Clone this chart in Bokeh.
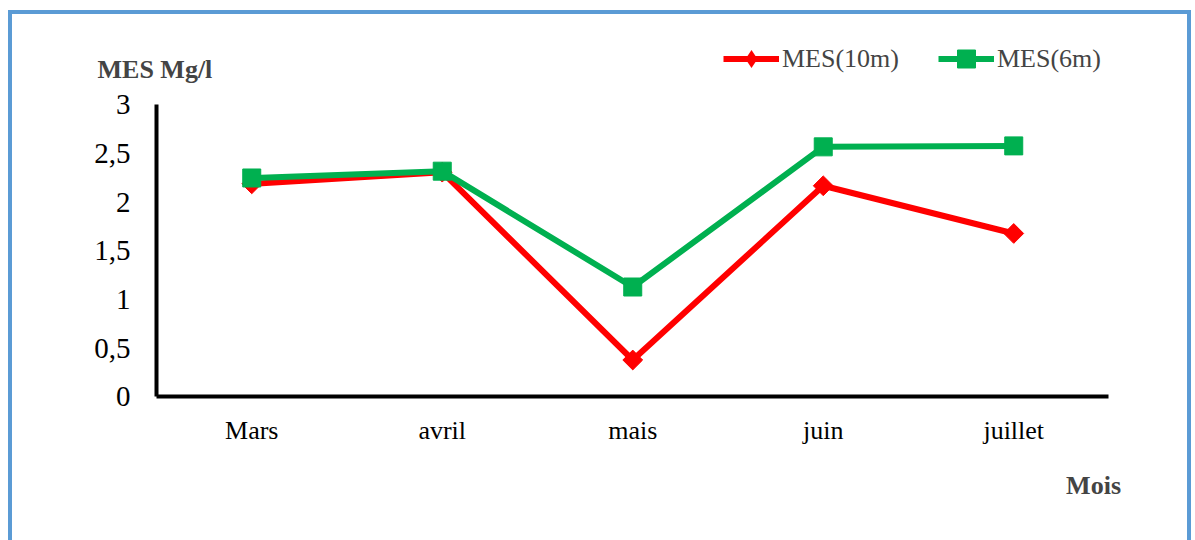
import numpy as np
from bokeh.plotting import figure
from bokeh.models import Range1d, Legend, LegendItem, Label, LinearAxis, FixedTicker
from bokeh.embed import file_html
from bokeh.resources import INLINE

months = ["Mars", "avril", "mais", "juin", "juillet"]
mes_10m = [2.19, 2.31, 0.38, 2.17, 1.68]
mes_6m = [2.25, 2.32, 1.13, 2.57, 2.58]
y_ticks = [0, 0.5, 1, 1.5, 2, 2.5, 3]
y_tick_labels = ["0", "0,5", "1", "1,5", "2", "2,5", "3"]

xpos = list(range(len(months)))

RED = "#FF0000"
GREEN = "#00B050"
BLUE = "#5B9BD5"
SERIF = "Liberation Serif"

p = figure(width=1183, height=530, output_backend="svg", toolbar_location=None,
           x_range=Range1d(-1.2559, 4.9541), y_range=Range1d(-1.5156, 3.9298),
           x_axis_location=None, y_axis_location=None,
           min_border=0, min_border_left=0, min_border_right=0,
           min_border_top=0, min_border_bottom=0)
p.styles = {"margin-left": "8px", "margin-top": "10px",
            "border-top": f"4px solid {BLUE}", "border-left": f"4px solid {BLUE}",
            "border-right": f"4px solid {BLUE}"}
p.outline_line_color = None
p.xgrid.visible = False
p.ygrid.visible = False
p.background_fill_color = "white"
p.border_fill_color = "white"

xaxis = LinearAxis(fixed_location=0, bounds=(-0.5, len(months) - 0.5),
                   ticker=FixedTicker(ticks=xpos),
                   major_label_overrides=dict(zip(xpos, months)))
yaxis = LinearAxis(fixed_location=-0.5, bounds=(0, 3),
                   ticker=FixedTicker(ticks=y_ticks),
                   major_label_overrides=dict(zip(y_ticks, y_tick_labels)))
for ax in (xaxis, yaxis):
    ax.axis_line_color = "black"
    ax.axis_line_width = 4
    ax.major_tick_line_color = None
    ax.minor_tick_line_color = None
    ax.major_label_text_font = SERIF
    ax.major_label_text_color = "black"
yaxis.major_label_text_font_size = "29px"
yaxis.major_label_standoff = 20
xaxis.major_label_text_font_size = "26px"
xaxis.major_label_standoff = 13
p.add_layout(xaxis, "below")
p.add_layout(yaxis, "left")

r10_line = p.line(xpos, mes_10m, line_color=RED, line_width=6)
r10_pts = p.scatter(xpos, mes_10m, marker="square", angle=np.pi / 4, size=14,
                    fill_color=RED, line_color=RED)
# legend key for the red series (legend markers are drawn unrotated, so a
# diamond marker of zero plot size is used only for the legend swatch)
r10_key = p.scatter(xpos, mes_10m, marker="diamond", size=0,
                    fill_color=RED, line_color=None)
r6_line = p.line(xpos, mes_6m, line_color=GREEN, line_width=6)
r6_pts = p.scatter(xpos, mes_6m, marker="square", size=18,
                   fill_color=GREEN, line_color=GREEN)

legend = Legend(items=[LegendItem(label="MES(10m)", renderers=[r10_line, r10_key]),
                       LegendItem(label="MES(6m)", renderers=[r6_line, r6_pts])],
                orientation="horizontal", location=(711, 463),
                glyph_width=56, glyph_height=45, label_standoff=3, spacing=39,
                padding=0, margin=0, border_line_color=None, background_fill_alpha=0,
                label_text_font=SERIF, label_text_font_size="26px")
p.add_layout(legend, "center")

p.add_layout(Label(x=-0.5, y=3, x_offset=-59, y_offset=35, text="MES Mg/l",
                   text_font=SERIF, text_font_style="bold", text_font_size="26px",
                   text_baseline="middle", text_align="left"))
p.add_layout(Label(x=len(months) - 0.5, y=0, x_offset=12, y_offset=-89, text="Mois",
                   text_font=SERIF, text_font_style="bold", text_font_size="26px",
                   text_baseline="middle", text_align="right"))

open("out.html", "w").write(file_html(p, INLINE))
